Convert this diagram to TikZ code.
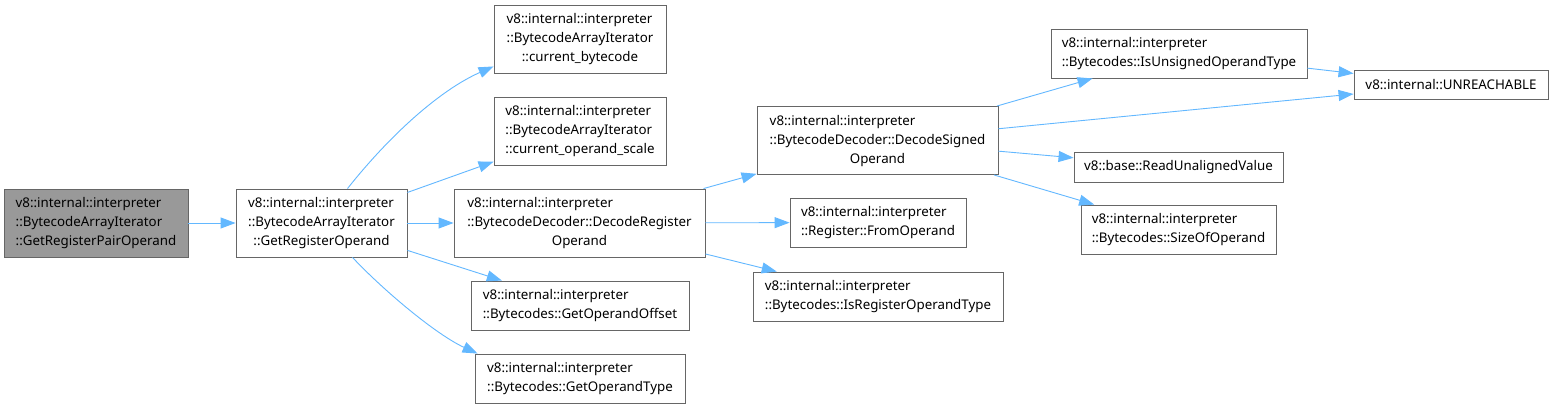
\documentclass[tikz,border=0pt]{standalone}
\usepackage{fontspec}
\setmainfont{Noto Sans}
\usetikzlibrary{arrows.meta}
\definecolor{edgeblue}{HTML}{63B8FF}
\definecolor{boxgray}{HTML}{666666}
\definecolor{fillgray}{HTML}{999999}
\newcommand{\lft}[1]{\multicolumn{1}{@{}l@{}}{#1}}
\newcommand{\lbl}[1]{\begin{tabular}{@{}c@{}}#1\end{tabular}}
\tikzset{
  fn/.style={draw=boxgray, line width=0.9pt, fill=white, inner sep=0pt,
    font=\fontsize{13.33}{19}\selectfont},
  root/.style={fn, fill=fillgray},
  edge/.style={draw=edgeblue, line width=0.9pt, -{Triangle[length=15pt,width=11pt]}}
}
\begin{document}
\begin{tikzpicture}[x=1pt,y=-1pt]
\useasboundingbox[fill=white] (0,0) rectangle (1554,409);
\node[root, minimum width=184pt, minimum height=68pt] (A) at (96,223)
  {\lbl{\lft{v8::internal::interpreter}\\ \lft{::BytecodeArrayIterator}\\ ::GetRegisterPairOperand}};
\node[fn, minimum width=171pt, minimum height=68pt] (B) at (321.5,223)
  {\lbl{\lft{v8::internal::interpreter}\\ \lft{::BytecodeArrayIterator}\\ ::GetRegisterOperand}};
\node[fn, minimum width=172pt, minimum height=68pt] (C) at (580,39)
  {\lbl{\lft{v8::internal::interpreter}\\ \lft{::BytecodeArrayIterator}\\ ::current\_bytecode}};
\node[fn, minimum width=172pt, minimum height=68pt] (D) at (580,131)
  {\lbl{\lft{v8::internal::interpreter}\\ \lft{::BytecodeArrayIterator}\\ ::current\_operand\_scale}};
\node[fn, minimum width=251pt, minimum height=68pt] (E) at (579.5,223)
  {\lbl{\lft{v8::internal::interpreter}\\ \lft{::BytecodeDecoder::DecodeRegister}\\ Operand}};
\node[fn, minimum width=218pt, minimum height=49pt] (F) at (580,305.5)
  {\lbl{\lft{v8::internal::interpreter}\\ ::Bytecodes::GetOperandOffset}};
\node[fn, minimum width=210pt, minimum height=49pt] (G) at (580,378.5)
  {\lbl{\lft{v8::internal::interpreter}\\ ::Bytecodes::GetOperandType}};
\node[fn, minimum width=241pt, minimum height=68pt] (H) at (877.5,140.5)
  {\lbl{\lft{v8::internal::interpreter}\\ \lft{::BytecodeDecoder::DecodeSigned}\\ Operand}};
\node[fn, minimum width=176pt, minimum height=49pt] (I) at (878,222.5)
  {\lbl{\lft{v8::internal::interpreter}\\ ::Register::FromOperand}};
\node[fn, minimum width=250pt, minimum height=49pt] (J) at (878,296.5)
  {\lbl{\lft{v8::internal::interpreter}\\ ::Bytecodes::IsRegisterOperandType}};
\node[fn, minimum width=256pt, minimum height=49pt] (K) at (1179,53.5)
  {\lbl{\lft{v8::internal::interpreter}\\ ::Bytecodes::IsUnsignedOperandType}};
\node[fn, minimum width=194pt, minimum height=29pt] (L) at (1451,84.5)
  {v8::internal::UNREACHABLE};
\node[fn, minimum width=209pt, minimum height=30pt] (M) at (1178.5,167)
  {v8::base::ReadUnalignedValue};
\node[fn, minimum width=195pt, minimum height=49pt] (N) at (1178.5,229.5)
  {\lbl{\lft{v8::internal::interpreter}\\ ::Bytecodes::SizeOfOperand}};
\draw[edge] (A) -- (B);
\draw[edge] ([xshift=26pt]B.north) .. controls (390,135) and (440,90) .. ([yshift=7pt]C.south west);
\draw[edge] (B) -- (D);
\draw[edge] (B) -- (E);
\draw[edge] (B) -- (F);
\draw[edge] ([xshift=31pt]B.south) .. controls (385,292) and (437,335) .. ([xshift=3pt]G.north west);
\draw[edge] (E) -- (H);
\draw[edge] (E) -- (I);
\draw[edge] (E) -- (J);
\draw[edge] (H) -- (K);
\draw[edge] (H) -- (L);
\draw[edge] (H) -- (M);
\draw[edge] (H) -- (N);
\draw[edge] (K) -- (L);
\end{tikzpicture}
\end{document}
